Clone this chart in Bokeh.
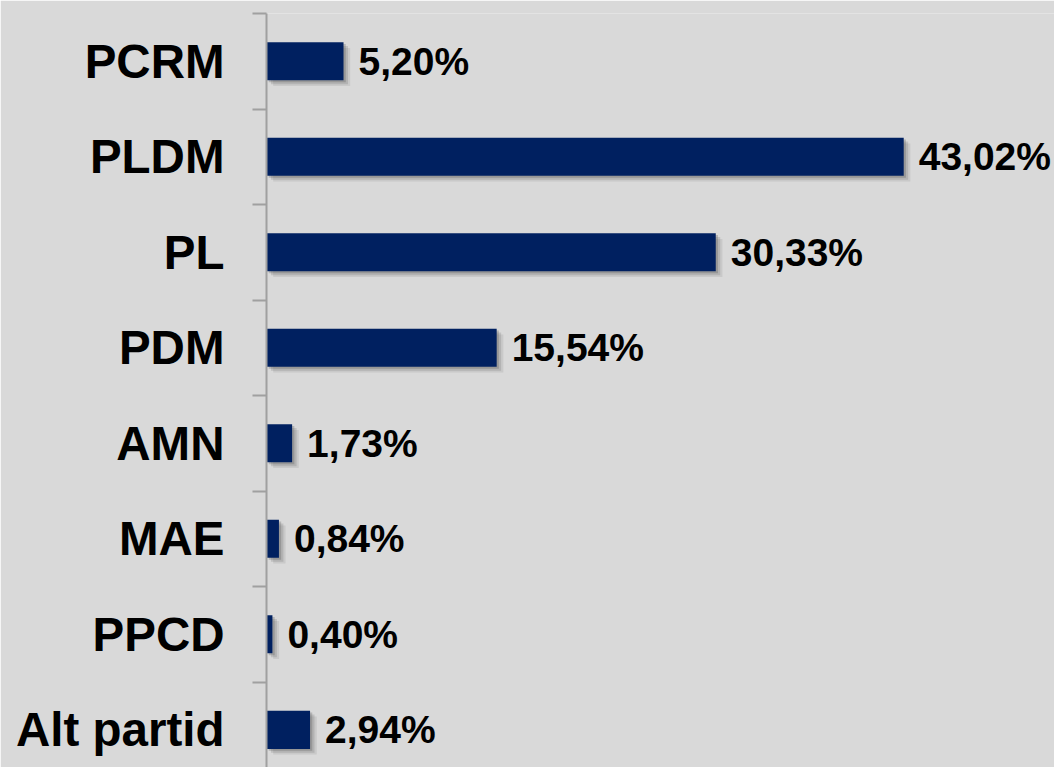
from bokeh.plotting import figure
from bokeh.models import ColumnDataSource, Range1d, FixedTicker
from bokeh.transform import dodge
from bokeh.core.properties import value
from bokeh.embed import file_html
from bokeh.resources import INLINE

# ---- data ----
categories = ["PCRM", "PLDM", "PL", "PDM", "AMN", "MAE", "PPCD", "Alt partid"]
values = [5.20, 43.02, 30.33, 15.54, 1.73, 0.84, 0.40, 2.94]
value_labels = ["5,20%", "43,02%", "30,33%", "15,54%", "1,73%", "0,84%", "0,40%", "2,94%"]

n = len(categories)
centers = [i + 0.5 for i in range(n)]
bounds = [float(i) for i in range(n + 1)]

src = ColumnDataSource(dict(y=centers, v=values, zero=[0.0] * n, lab=value_labels))

BG = "#d9d9d9"
BAR = "#002060"
W, H = 1054, 767

p = figure(width=W, height=H, output_backend="svg", toolbar_location=None,
           x_range=Range1d(0, 53.2), y_range=Range1d(start=7.895, end=0),
           x_axis_location=None, min_border_left=266, min_border_right=0,
           min_border_top=13, min_border_bottom=0)
p.background_fill_color = BG
p.border_fill_color = BG
p.outline_line_color = None
p.grid.visible = False

# soft shadow layers
for dx, dy, a in [(0.15, 0.02, 0.24), (0.30, 0.04, 0.16), (0.45, 0.06, 0.10)]:
    p.hbar(y=dodge("y", dy, range=p.y_range), left=dodge("zero", dx, range=p.x_range),
           right=dodge("v", dx, range=p.x_range), height=0.4, source=src,
           fill_color="#404040", fill_alpha=a, line_color=None)

p.hbar(y="y", left="zero", right="v", height=0.4, source=src,
       fill_color=BAR, line_color=None)

p.text(x="v", y="y", text="lab", source=src, x_offset=15,
       text_font=value("Liberation Sans"), text_font_style="bold",
       text_font_size="39px", text_baseline="middle", text_align="left",
       text_color="black")

ax = p.yaxis[0]
ax.ticker = FixedTicker(ticks=centers, minor_ticks=bounds)
ax.major_label_overrides = {c: name for c, name in zip(centers, categories)}
ax.major_tick_line_color = None
ax.major_tick_out = 0
ax.major_tick_in = 0
ax.minor_tick_out = 14
ax.minor_tick_in = 0
ax.minor_tick_line_color = "#a0a0a0"
ax.minor_tick_line_width = 2
ax.axis_line_color = "#a0a0a0"
ax.axis_line_width = 2
ax.major_label_standoff = 28
ax.major_label_text_font = "Liberation Sans"
ax.major_label_text_font_style = "bold"
ax.major_label_text_font_size = "47.5px"
ax.major_label_text_color = "black"

open("out.html", "w").write(file_html(p, INLINE))
